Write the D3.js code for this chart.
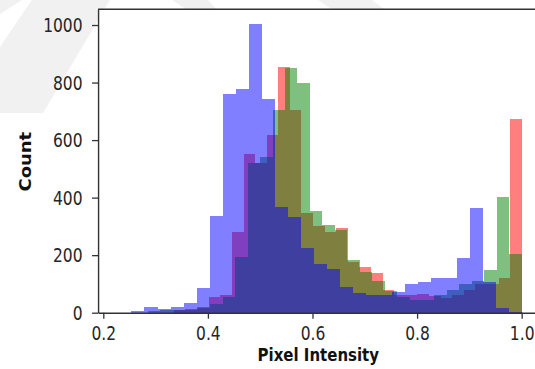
<!DOCTYPE html>
<html>
<head>
<meta charset="utf-8">
<script src="https://cdn.jsdelivr.net/npm/d3@7"></script>
<style>
  body { margin: 0; background: #fff; }
  svg { display: block; font-family: "DejaVu Sans", sans-serif; }
</style>
</head>
<body>
<svg id="chart" width="535" height="369"></svg>
<script>
// histogram counts per colour channel, 30 bins each, every channel binned over its own range
const redRange = [0.3352, 1.0];
const greenRange = [0.2853, 1.0];
const blueRange = [0.2539, 1.0];

const redCounts = [8, 10, 20, 55, 62, 282, 552, 519, 618, 855,
  705, 345, 300, 282, 293, 175, 160, 137, 79, 60,
  60, 65, 58, 50, 60, 80, 100, 100, 120, 672];
const greenCounts = [5, 8, 10, 12, 15, 30, 55, 195, 519, 542,
  705, 850, 797, 355, 305, 288, 183, 143, 110, 75,
  55, 45, 45, 60, 80, 100, 110, 148, 403, 203];
const blueCounts = [5, 19, 13, 21, 33, 87, 336, 759, 776, 1005,
  742, 368, 334, 224, 168, 151, 90, 68, 62, 60,
  72, 100, 108, 122, 122, 190, 365, 105, 15, 2];

const xTicks = [0.2, 0.4, 0.6, 0.8, 1.0];
const yTicks = [0, 200, 400, 600, 800, 1000];

const svg = d3.select("#chart");
const stretch = 1.2; // the picture is a bit taller than it is wide

// faint watermark shapes behind the plot
const marks = [
  [[0, 47], [32, 0], [110, 0], [43, 113], [0, 113]],
  [[0, 0], [22, 0], [0, 14]],
  [[172, 0], [208, 0], [216, 9], [186, 9]],
  [[318, 0], [372, 0], [384, 9], [332, 9]]
];
svg.selectAll("polygon.wm")
  .data(marks)
  .enter()
  .append("polygon")
  .attr("class", "wm")
  .attr("points", d => d.map(p => p.join(",")).join(" "))
  .attr("fill", "#f1f1f1");

const x = d3.scaleLinear().domain([0.19, 1.04]).range([98.07, 542.6]);
const y = d3.scaleLinear().domain([0, 1055]).range([312.7, 9.2]);

// white plot background
svg.append("rect")
  .attr("x", x(0.19))
  .attr("y", y(1055))
  .attr("width", x(1.04) - x(0.19))
  .attr("height", y(0) - y(1055))
  .attr("fill", "#fff");

function drawHist(counts, range, color) {
  const w = (range[1] - range[0]) / counts.length;
  svg.append("g")
    .selectAll("rect")
    .data(counts)
    .enter()
    .append("rect")
    .attr("x", (d, i) => x(range[0] + i * w))
    .attr("width", (d, i) => x(range[0] + (i + 1) * w) - x(range[0] + i * w))
    .attr("y", d => y(d))
    .attr("height", d => y(0) - y(d))
    .attr("fill", color)
    .attr("fill-opacity", 0.5)
    .attr("shape-rendering", "crispEdges");
}

drawHist(redCounts, redRange, "#ff0000");
drawHist(greenCounts, greenRange, "#008000");
drawHist(blueCounts, blueRange, "#0000ff");

// axes
const xAxis = svg.append("g")
  .attr("transform", "translate(0," + y(0) + ")")
  .call(d3.axisBottom(x).tickValues(xTicks).tickFormat(d3.format(".1f"))
    .tickSize(6).tickSizeOuter(0));
xAxis.selectAll("text")
  .attr("y", 27.3 / stretch)
  .attr("dy", 0)
  .attr("transform", "scale(1," + stretch + ")");

const yAxis = svg.append("g")
  .attr("transform", "translate(" + x(0.19) + ",0)")
  .call(d3.axisLeft(y).tickValues(yTicks).tickFormat(d3.format("d"))
    .tickSize(6).tickPadding(9.5).tickSizeOuter(0));
yAxis.selectAll("text")
  .attr("dy", "0.36em")
  .attr("transform", "scale(1," + stretch + ")");

svg.selectAll(".tick text")
  .attr("font-size", 15.5)
  .attr("font-family", "DejaVu Sans")
  .attr("fill", "#262626");
svg.selectAll(".tick line").attr("stroke", "#333").attr("stroke-width", 1.3);
svg.selectAll(".domain").attr("stroke", "#333").attr("stroke-width", 1.4);

// top and right spines
svg.append("line")
  .attr("x1", x(0.19)).attr("x2", x(1.04))
  .attr("y1", y(1055)).attr("y2", y(1055))
  .attr("stroke", "#333").attr("stroke-width", 1.4);
svg.append("line")
  .attr("x1", x(1.04)).attr("x2", x(1.04))
  .attr("y1", y(1055)).attr("y2", y(0))
  .attr("stroke", "#333").attr("stroke-width", 1.4);

// axis titles
svg.append("text")
  .attr("transform", "translate(318.3,361) scale(1," + stretch + ")")
  .attr("text-anchor", "middle")
  .attr("font-size", 15)
  .attr("font-weight", "bold")
  .attr("fill", "#111")
  .text("Pixel Intensity");

svg.append("text")
  .attr("transform", "translate(31,161.7) scale(1," + stretch + ") rotate(-90)")
  .attr("text-anchor", "middle")
  .attr("font-size", 15)
  .attr("font-weight", "bold")
  .attr("fill", "#111")
  .text("Count");
</script>
</body>
</html>
